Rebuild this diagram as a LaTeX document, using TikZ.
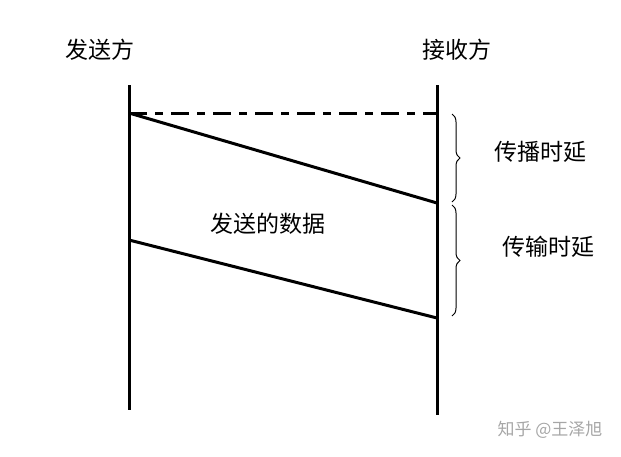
\documentclass[tikz,border=0pt]{standalone}
\usepackage{fontspec}
\newfontfamily\cjk{Noto Sans CJK SC}
\usetikzlibrary{decorations.pathreplacing}
\begin{document}
\begin{tikzpicture}[x=1pt,y=-1pt,
  lbl/.style={font=\cjk\fontsize{23}{26}\selectfont,inner sep=0pt},
  thick line/.style={line width=3pt},
  br/.style={decorate,decoration={brace,amplitude=8pt},line width=1pt}]
\useasboundingbox (0,0) rectangle (621,456);
\coordinate (l0) at (129,85); \coordinate (l1) at (129,410);
\coordinate (r0) at (437,85); \coordinate (r1) at (437,415);
\coordinate (a) at (129,113); \coordinate (b) at (437,113);
\coordinate (c) at (437,203); \coordinate (d) at (129,240);
\coordinate (e) at (437,318);
\draw[thick line] (l0) -- (l1);
\draw[thick line] (r0) -- (r1);
\draw[thick line,dash pattern=on 18pt off 8pt on 8pt off 8pt] (a) -- (b);
\draw[thick line] (a) -- (c);
\draw[thick line] (d) -- (e);
\draw[br] (452,114) -- (452,202);
\draw[br] (452,205) -- (452,316);
\node[lbl] (s) at (100,50) {发送方};
\node[lbl] (rv) at (457,50) {接收方};
\node[lbl] (p) at (540,152) {传播时延};
\node[lbl] (t) at (548,247) {传输时延};
\node[lbl] (dd) at (268,224) {发送的数据};
\node[lbl,font=\cjk\fontsize{17}{19}\selectfont,text=gray!70] (w) at (550,430) {知乎 @王泽旭};
\end{tikzpicture}
\end{document}
